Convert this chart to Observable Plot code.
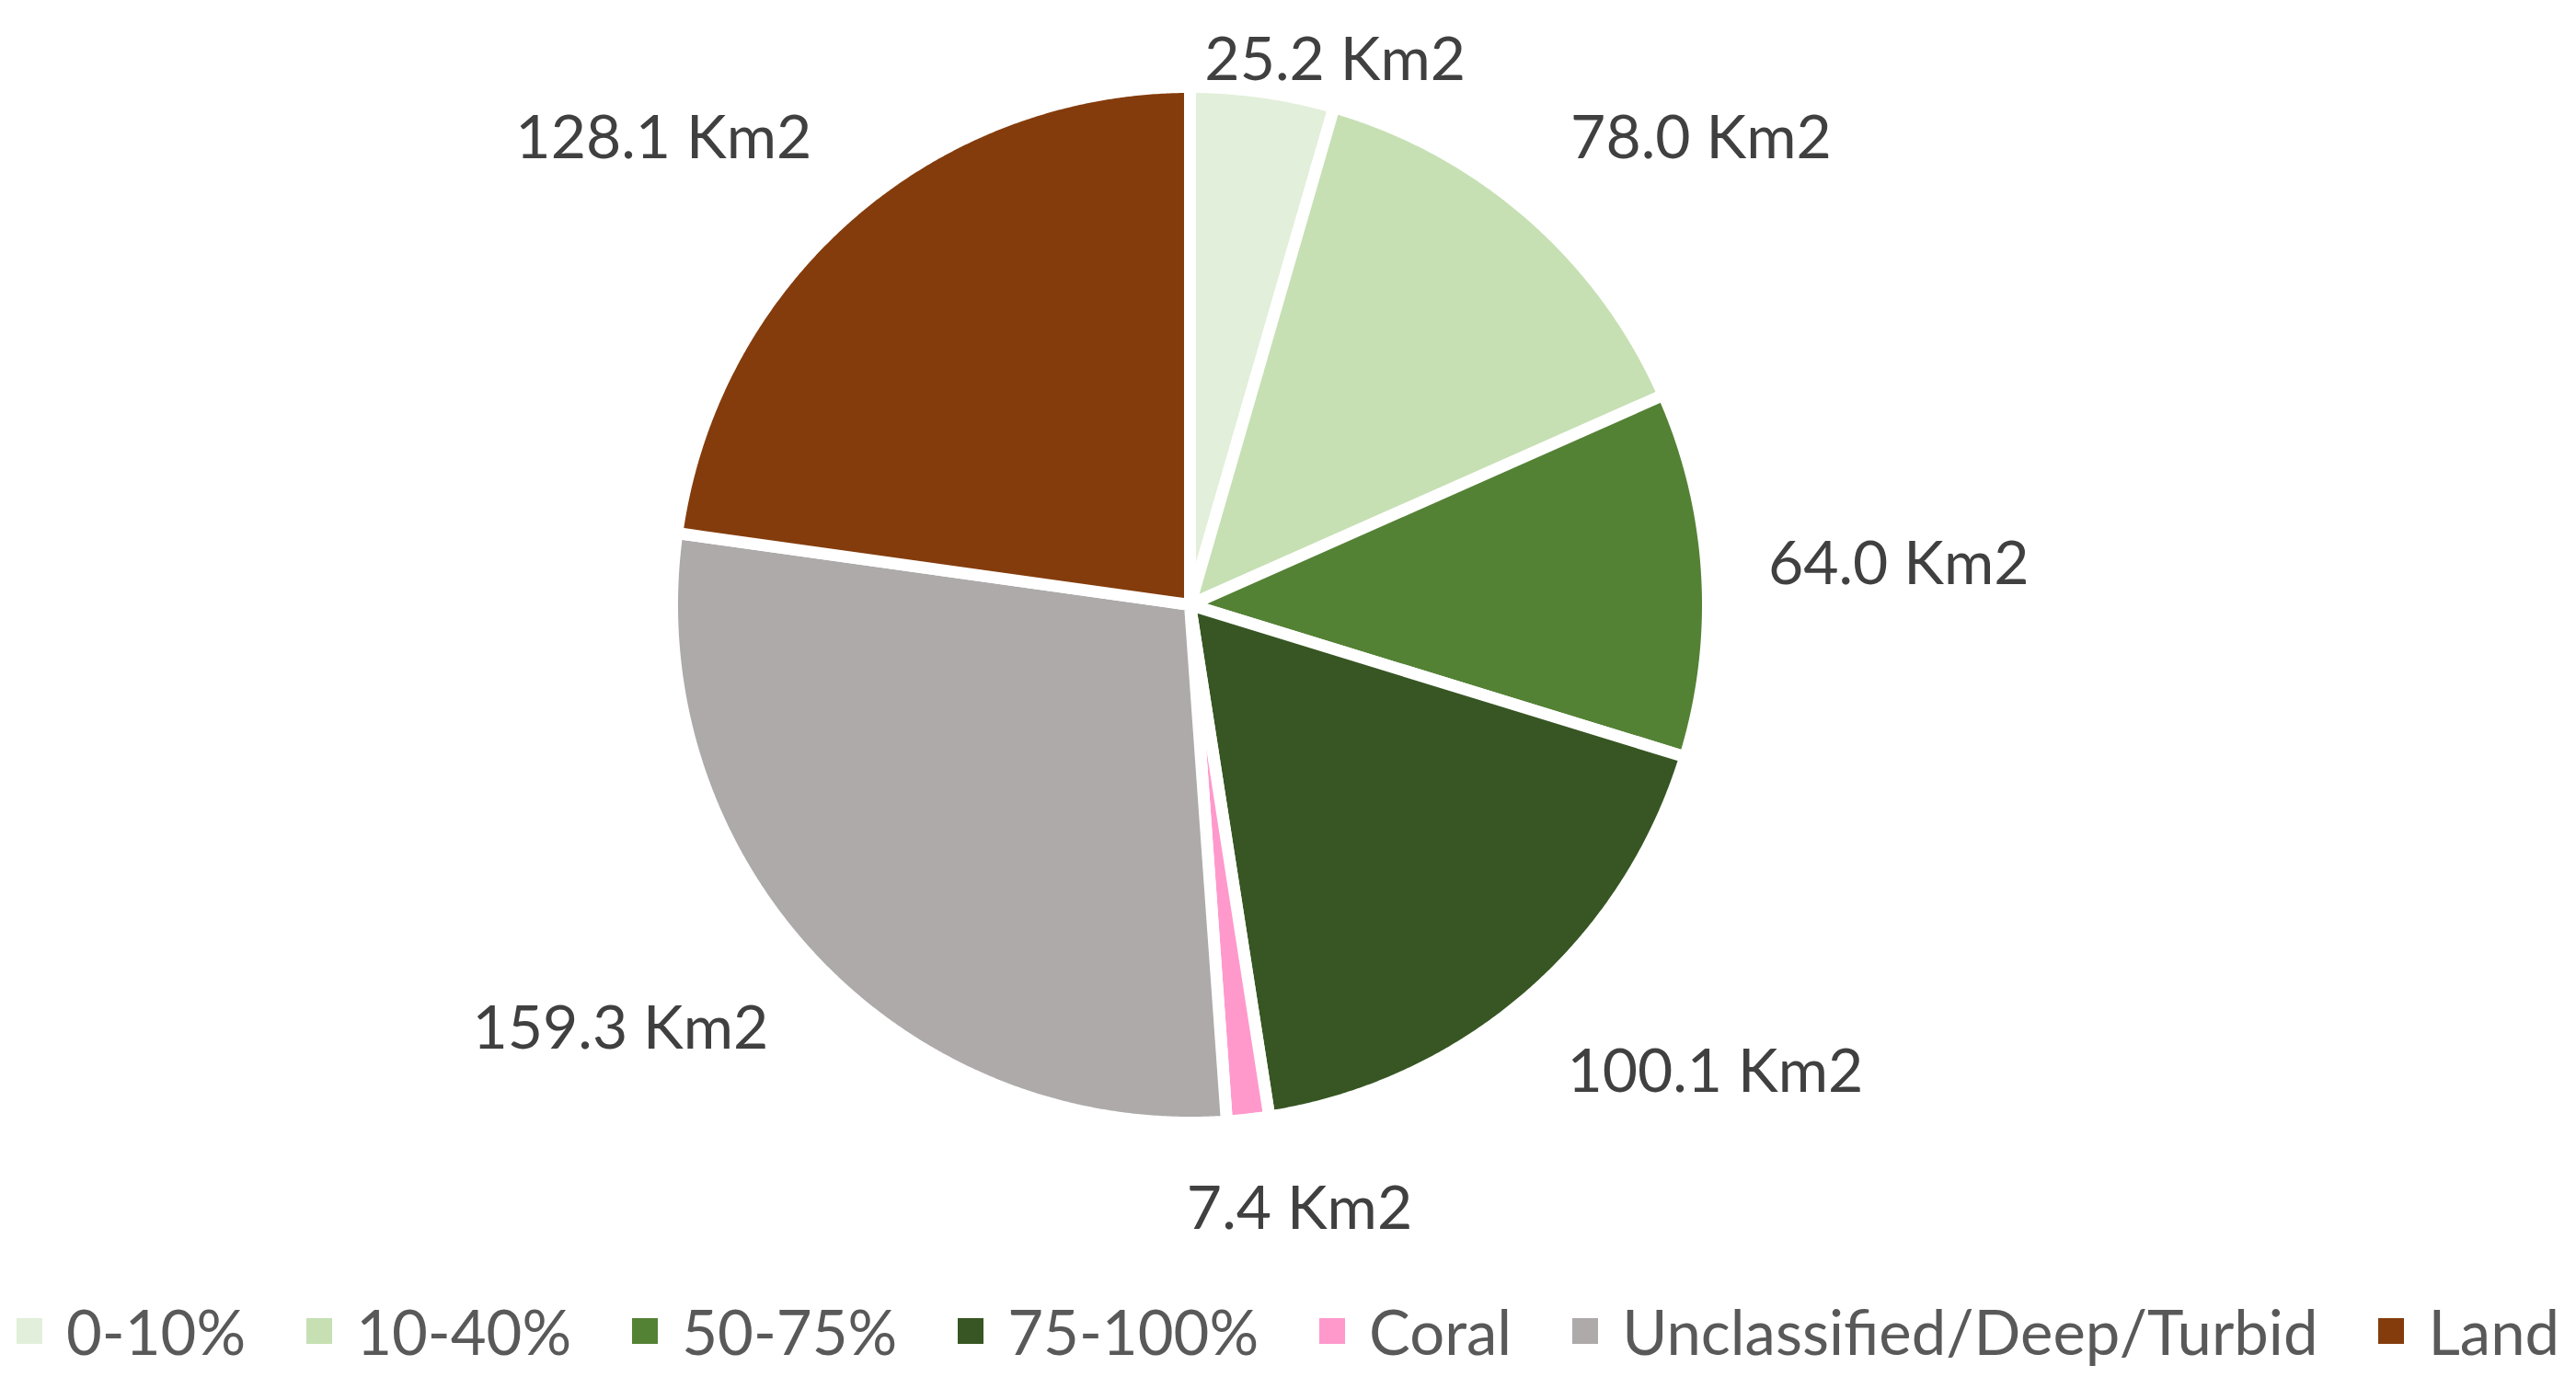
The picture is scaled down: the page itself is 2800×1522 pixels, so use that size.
<!DOCTYPE html>
<html><head><meta charset="utf-8">
<script src="https://cdn.jsdelivr.net/npm/d3@7"></script>
<script src="https://cdn.jsdelivr.net/npm/@observablehq/plot@0.6"></script>
<style>
body{margin:0;background:#fff;width:2800px;height:1522px;overflow:hidden;font-family:Lato,sans-serif}
#legend{display:flex;justify-content:center;align-items:center;height:134px;gap:66px;color:#595959;font-size:67px}
.item{display:flex;align-items:center;gap:26px}
.sw{width:28px;height:28px;flex:none}
</style></head><body>
<div id="chart"></div><div id="legend"></div>
<script>
const categories = ["0-10%","10-40%","50-75%","75-100%","Coral","Unclassified/Deep/Turbid","Land"];
const areas = [25.2, 78.0, 64.0, 100.1, 7.4, 159.3, 128.1];
const colors = ["#e2efda","#c6e0b4","#548235","#375623","#ff99cc","#aeaaaa","#843c0c"];
const unit = "Km2";

// layout (pixels)
const W = 2800, H = 1380, CX = 1293, CY = 657, R = 563;

const arcs = d3.pie().sort(null).value(d => d)(areas);
const slicePts = [];
arcs.forEach((a, i) => {
  const cat = categories[i];
  slicePts.push({cat, x: 0, y: 0});
  const n = Math.max(4, Math.ceil((a.endAngle - a.startAngle) / 0.005));
  for (let k = 0; k <= n; k++) {
    const t = a.startAngle + (a.endAngle - a.startAngle) * k / n;
    slicePts.push({cat, x: Math.sin(t), y: Math.cos(t)});
  }
  slicePts.push({cat, x: 0, y: 0});
});

// outside-end labels: box corner touches a point at mid-angle just outside the pie
const clamp = v => Math.max(-1, Math.min(1, v));
const labels = arcs.map((a, i) => {
  const m = (a.startAngle + a.endAngle) / 2;
  const text = areas[i].toFixed(1) + " " + unit;
  const w = text.length * 0.0625, h = 0.111, r = 1.12;
  const s = Math.sin(m), c = Math.cos(m);
  const x = r * s + clamp(3.5 * s) * w / 2;
  let y = r * c + clamp(3.5 * c) * h / 2;
  y = Math.min(y, 1.05);
  return {x, y, text};
});

const chart = Plot.plot({
  width: W, height: H, margin: 0,
  style: {fontFamily: "Lato, sans-serif", background: "white"},
  x: {domain: [-CX / R, (W - CX) / R], axis: null},
  y: {domain: [-(H - CY) / R, CY / R], axis: null},
  color: {type: "ordinal", domain: categories, range: colors},
  marks: [
    Plot.line(slicePts, {x: "x", y: "y", z: "cat", fill: "cat", stroke: "white", strokeWidth: 13, curve: "linear"}),
    Plot.text(labels, {x: "x", y: "y", text: "text", fill: "#404040", fontSize: 66, fontFamily: "Lato, sans-serif"})
  ]
});
document.getElementById("chart").appendChild(chart);

const leg = document.getElementById("legend");
categories.forEach((c, i) => {
  const it = document.createElement("div"); it.className = "item";
  const sw = document.createElement("div"); sw.className = "sw"; sw.style.background = colors[i];
  const tx = document.createElement("span"); tx.textContent = c;
  it.appendChild(sw); it.appendChild(tx); leg.appendChild(it);
});
</script>
</body></html>
